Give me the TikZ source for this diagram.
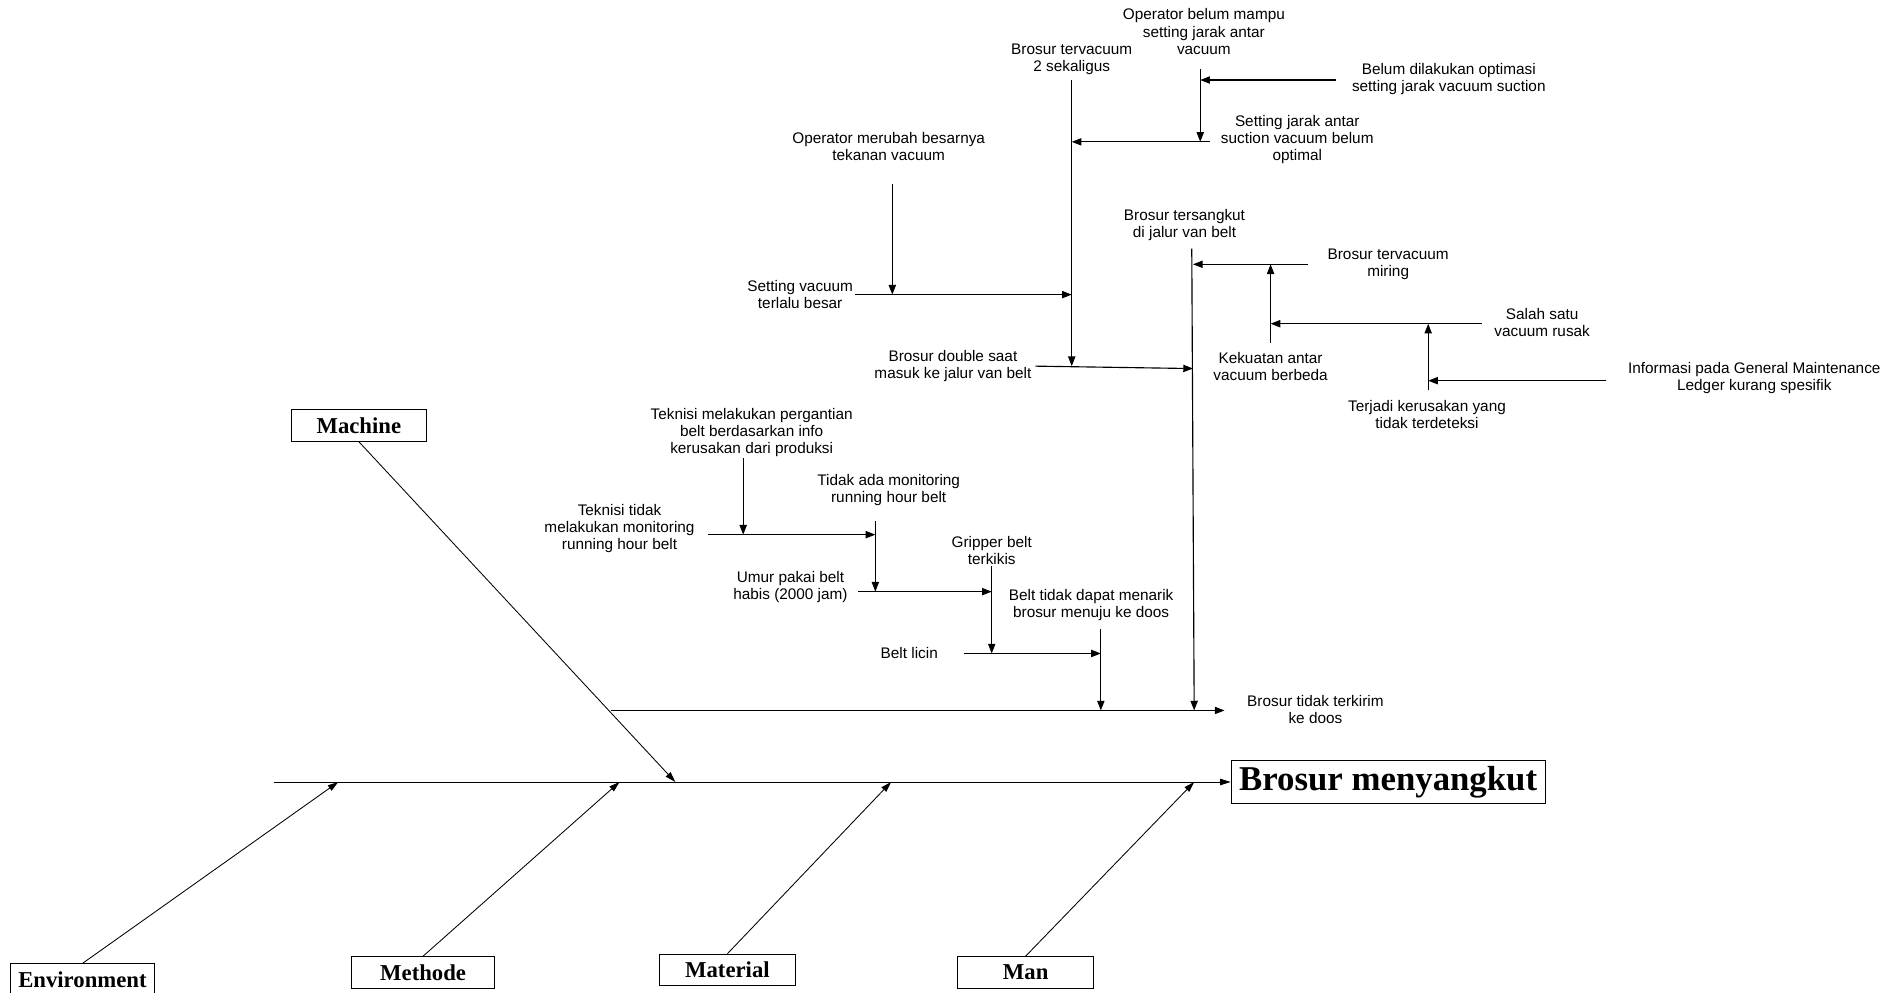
\documentclass[tikz,border=0pt]{standalone}
\usepackage{fontspec}
\setmainfont{Liberation Serif}
\setsansfont{Liberation Sans}
\usetikzlibrary{arrows.meta,positioning}

\begin{document}
\begin{tikzpicture}[x=0.3mm,y=-0.3mm,
    sebab/.style={font=\sffamily\fontsize{10.8}{12}\selectfont,align=center,inner sep=1pt},
    kategori/.style={draw,line width=0.6pt,font=\bfseries\fontsize{16}{18}\selectfont,
      minimum width=33.6mm,minimum height=7.8mm,inner xsep=2mm,inner ysep=1pt},
    akibat/.style={kategori,font=\bfseries\fontsize{24.5}{26}\selectfont,
      minimum width=77.7mm,minimum height=10.8mm},
    panah/.style={line width=0.8pt,-{Triangle[length=2.4mm,width=1.8mm]}},
    tulang/.style={line width=0.6pt,-{Triangle[length=2.6mm,width=1.6mm]}}]

  \useasboundingbox (0,0) rectangle (1568,819);
  \clip (0,0) rectangle (1568,819);

  % ---- kepala ikan dan kategori --------------------------------------------
  \node[akibat]   (masalah)    at (1145,645) {Brosur menyangkut};
  \node[kategori] (mesin)      at (296,351)  {Machine};
  \node[kategori] (lingkungan) at (68,808)   {Environment};
  \node[kategori,minimum width=35.4mm] (metode) at (349,802) {Methode};
  \node[kategori] (material)   at (600,800)  {Material};
  \node[kategori] (manusia)    at (846,802)  {Man};

  \coordinate (ekor)     at (226,645);
  \coordinate (j-mesin)  at (557,645);
  \coordinate (j-ling)   at (279,645);
  \coordinate (j-metode) at (511,645);
  \coordinate (j-mat)    at (735,645);
  \coordinate (j-man)    at (985,645);

  \draw[tulang] (ekor) -- (masalah.west);
  \draw[tulang] (mesin.south) -- (j-mesin);
  \draw[tulang] (lingkungan.north) -- (j-ling);
  \draw[tulang] (metode.north) -- (j-metode);
  \draw[tulang] (material.north) -- (j-mat);
  \draw[tulang] (manusia.north) -- (j-man);

  % ---- teks penyebab -------------------------------------------------------
  \node[sebab] (belum-mampu) at (993,26)   {Operator belum mampu\\setting jarak antar\\vacuum};
  \node[sebab] (dua-sekali)  at (884,49)   {Brosur tervacuum\\2 sekaligus};
  \node[sebab] (optimasi)    at (1195,65)  {Belum dilakukan optimasi\\setting jarak vacuum suction};
  \node[sebab] (jarak)       at (1070,115) {Setting jarak antar\\suction vacuum belum\\optimal};
  \node[sebab] (merubah)     at (733,121)  {Operator merubah besarnya\\tekanan vacuum};
  \node[sebab] (tersangkut)  at (977,186)  {Brosur tersangkut\\di jalur van belt};
  \node[sebab] (miring)      at (1145,218) {Brosur tervacuum\\miring};
  \node[sebab] (terlalu)     at (660,243)  {Setting vacuum\\terlalu besar};
  \node[sebab] (rusak)       at (1272,266) {Salah satu\\vacuum rusak};
  \node[sebab] (double)      at (786,302)  {Brosur double saat\\masuk ke jalur van belt};
  \node[sebab] (kekuatan)    at (1048,302) {Kekuatan antar\\vacuum berbeda};
  \node[sebab] (informasi)   at (1447,312) {Informasi pada General Maintenance\\Ledger kurang spesifik};
  \node[sebab] (terdeteksi)  at (1177,342) {Terjadi kerusakan yang\\tidak terdeteksi};
  \node[sebab] (pergantian)  at (620,357)  {Teknisi melakukan pergantian\\belt berdasarkan info\\kerusakan dari produksi};
  \node[sebab] (tidak-ada)   at (733,404)  {Tidak ada monitoring\\running hour belt};
  \node[sebab] (teknisi)     at (511,436)  {Teknisi tidak\\melakukan monitoring\\running hour belt};
  \node[sebab] (gripper)     at (818,454)  {Gripper belt\\terkikis};
  \node[sebab] (umur)        at (652,484)  {Umur pakai belt\\habis (2000 jam)};
  \node[sebab] (menarik)     at (900,499)  {Belt tidak dapat menarik\\brosur menuju ke doos};
  \node[sebab] (licin)       at (750,539)  {Belt licin};
  \node[sebab] (terkirim)    at (1085,585) {Brosur tidak terkirim\\ke doos};

  % ---- tulang kecil: brosur tidak terkirim ---------------------------------
  \coordinate (s-awal)  at (504,586);
  \coordinate (s-ujung) at (1010,586);
  \draw[panah] (s-awal) -- (s-ujung);

  % belt
  \coordinate (c-menarik-a) at (908,519);  \coordinate (c-menarik-b) at (908,586);
  \coordinate (c-licin-a)   at (795,539);  \coordinate (c-licin-b)   at (908,539);
  \coordinate (c-grip-a)    at (818,467);  \coordinate (c-grip-b)    at (818,539);
  \coordinate (c-umur-a)    at (708,488);  \coordinate (c-umur-b)    at (818,488);
  \coordinate (c-ada-a)     at (722,430);  \coordinate (c-ada-b)     at (722,488);
  \coordinate (c-tek-a)     at (584,441);  \coordinate (c-tek-b)     at (722,441);
  \coordinate (c-ganti-a)   at (613,378);  \coordinate (c-ganti-b)   at (613,441);
  \draw[panah] (c-menarik-a) -- (c-menarik-b);
  \draw[panah] (c-licin-a) -- (c-licin-b);
  \draw[panah] (c-grip-a) -- (c-grip-b);
  \draw[panah] (c-umur-a) -- (c-umur-b);
  \draw[panah] (c-ada-a) -- (c-ada-b);
  \draw[panah] (c-tek-a) -- (c-tek-b);
  \draw[panah] (c-ganti-a) -- (c-ganti-b);

  % brosur tersangkut
  \coordinate (c-sangkut-a) at (983,205);  \coordinate (c-sangkut-b) at (985,586);
  \coordinate (c-miring-a)  at (1079,218); \coordinate (c-miring-b)  at (984,218);
  \coordinate (c-kuat-a)    at (1048,283); \coordinate (c-kuat-b)    at (1048,218);
  \coordinate (c-rusak-a)   at (1222,267); \coordinate (c-rusak-b)   at (1048,267);
  \coordinate (c-deteksi-a) at (1178,322); \coordinate (c-deteksi-b) at (1178,267);
  \coordinate (c-info-a)    at (1325,314); \coordinate (c-info-b)    at (1178,314);
  \draw[panah] (c-sangkut-a) -- (c-sangkut-b);
  \draw[panah] (c-miring-a) -- (c-miring-b);
  \draw[panah] (c-kuat-a) -- (c-kuat-b);
  \draw[panah] (c-rusak-a) -- (c-rusak-b);
  \draw[panah] (c-deteksi-a) -- (c-deteksi-b);
  \draw[panah] (c-info-a) -- (c-info-b);

  % brosur double
  \coordinate (c-double-a)  at (854,302);  \coordinate (c-double-b)  at (984,304);
  \coordinate (c-dua-a)     at (884,66);   \coordinate (c-dua-b)     at (884,302);
  \coordinate (c-besar-a)   at (705,243);  \coordinate (c-besar-b)   at (884,243);
  \coordinate (c-ubah-a)    at (736,152);  \coordinate (c-ubah-b)    at (736,243);
  \coordinate (c-jarak-a)   at (998,117);  \coordinate (c-jarak-b)   at (884,117);
  \coordinate (c-mampu-a)   at (990,57);   \coordinate (c-mampu-b)   at (990,117);
  \coordinate (c-opt-a)     at (1102,66);  \coordinate (c-opt-b)     at (990,66);
  \draw[panah] (c-double-a) -- (c-double-b);
  \draw[panah] (c-dua-a) -- (c-dua-b);
  \draw[panah] (c-besar-a) -- (c-besar-b);
  \draw[panah] (c-ubah-a) -- (c-ubah-b);
  \draw[panah] (c-jarak-a) -- (c-jarak-b);
  \draw[panah] (c-mampu-a) -- (c-mampu-b);
  \draw[panah] (c-opt-a) -- (c-opt-b);

\end{tikzpicture}
\end{document}
